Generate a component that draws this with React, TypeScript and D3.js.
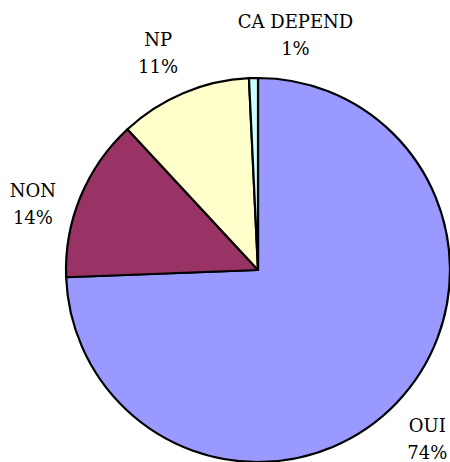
import React from 'react'
import { pie, arc } from 'd3'

// values
const categories = ['OUI', 'NON', 'NP', 'CA DEPEND']
const values = [74.4, 13.7, 11.15, 0.75]
const pctLabels = ['74%', '14%', '11%', '1%']
const colors = ['#9999FF', '#993366', '#FFFFCC', '#CCFFFF']

const W = 450
const H = 462
const cx = 258
const cy = 270
const R = 192
const labelR = 235
// small nudges so labels sit where the original put them
const nudges = [[0, 6], [-8, 24], [-9, 0], [43, 0]]
const font = 'DejaVu Serif, serif'

const App = () => {
  const slices = pie<number>().sort(null).value(d => d)(values)
  const sliceArc = arc<any>().innerRadius(0).outerRadius(R)
  const labelArc = arc<any>().innerRadius(labelR).outerRadius(labelR)

  return (
    <svg width={W} height={H} style={{ position: 'absolute', left: 0, top: 0 }}>
      <rect width={W} height={H} fill="#fff" />
      <g transform={`translate(${cx},${cy})`}>
        {slices.map((s, i) => (
          <path key={i} d={sliceArc(s) || ''} fill={colors[i]} stroke="#000" strokeWidth={2.2} strokeLinejoin="round" />
        ))}
        {slices.map((s, i) => {
          const [x, y] = labelArc.centroid(s)
          const lx = x + nudges[i][0]
          const ly = y + nudges[i][1]
          return (
            <text key={'l' + i} x={lx} y={ly} textAnchor="middle"
              style={{ fontFamily: font, fontSize: '18px' }} fill="#000">
              <tspan x={lx} dy={-7}>{categories[i]}</tspan>
              <tspan x={lx} dy={27}>{pctLabels[i]}</tspan>
            </text>
          )
        })}
      </g>
    </svg>
  )
}

export default App
